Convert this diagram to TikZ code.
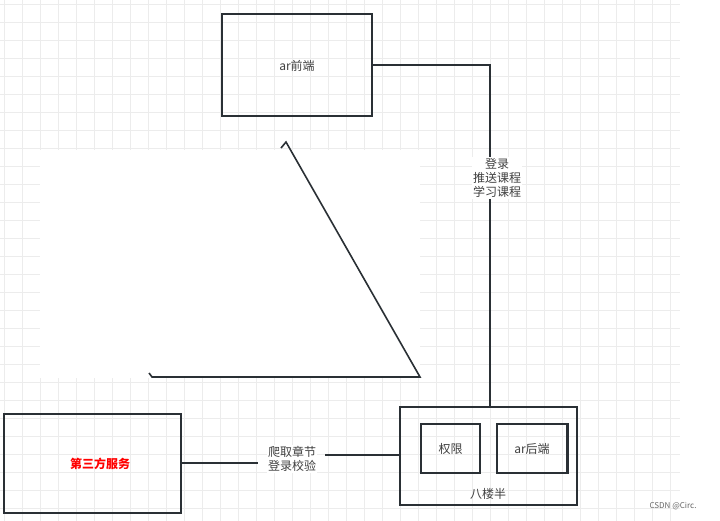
\documentclass[tikz,border=0pt]{standalone}
\usepackage{fontspec}
\setmainfont{Noto Sans CJK SC}
\begin{document}
\begin{tikzpicture}[x=1pt,y=-1pt,
  box/.style={draw=ln,line width=1.6pt,inner sep=0pt},
  ln/.style={draw=ln,line width=1.6pt},
  tx/.style={text=black!75,font=\fontsize{12}{14}\selectfont},
  lbl/.style={fill=white,inner sep=1pt,align=center,text=black!75,font=\fontsize{12}{14}\selectfont}]
\definecolor{ln}{HTML}{2A3035}
\definecolor{gr}{HTML}{ECECEC}
\useasboundingbox (0,0) rectangle (720,521);
\fill[white] (0,0) rectangle (720,521);
\foreach \i in {0,...,37} {\draw[gr,line width=0.6pt] (\i*18+4,0) -- (\i*18+4,521);}
\foreach \j in {0,...,29} {\draw[gr,line width=0.6pt] (0,\j*18+4) -- (680,\j*18+4);}
\fill[white] (40,150) rectangle (420,378);
\node[box,minimum width=150pt,minimum height=102pt] (fe) at (297,65) {};
\node[tx] at (297,66) {ar前端};
\node[box,minimum width=177pt,minimum height=99pt] (tp) at (92.5,463.5) {};
\node[text=red,font=\bfseries\fontsize{12}{14}\selectfont] at (100,464) {第三方服务};
\node[box,minimum width=177pt,minimum height=98pt] (bl) at (488.5,456) {};
\node[box,minimum width=59pt,minimum height=49pt] (qx) at (450.5,448.5) {};
\node[tx] at (450.5,448.5) {权限};
\node[box,minimum width=70pt,minimum height=49pt] (be) at (532,448.5) {};
\draw[ln] (be.north east) -- (be.south east);
\node[tx] at (532,448.5) {ar后端};
\node[tx] (bll) at (488,494) {八楼半};
\coordinate (c1) at (490,65);
\draw[ln] (fe.east |- c1) -- (c1) -- (c1 |- bl.north);
\node[lbl] (l1) at (497,178) {登录\\推送课程\\学习课程};
\draw[ln] (tp.east |- 0,463) -- (258,463);
\draw[ln] (325,455) -- (bl.west |- 0,455);
\node[lbl] (l2) at (292,459) {爬取章节\\登录校验};
\draw[ln,line join=miter] (281,148) -- (286,142) -- (420,377) -- (152,377) -- (149,373);
\node[text=black!60,font=\fontsize{8}{9}\selectfont] (wm) at (673,506) {CSDN @Circ.};
\end{tikzpicture}
\end{document}
